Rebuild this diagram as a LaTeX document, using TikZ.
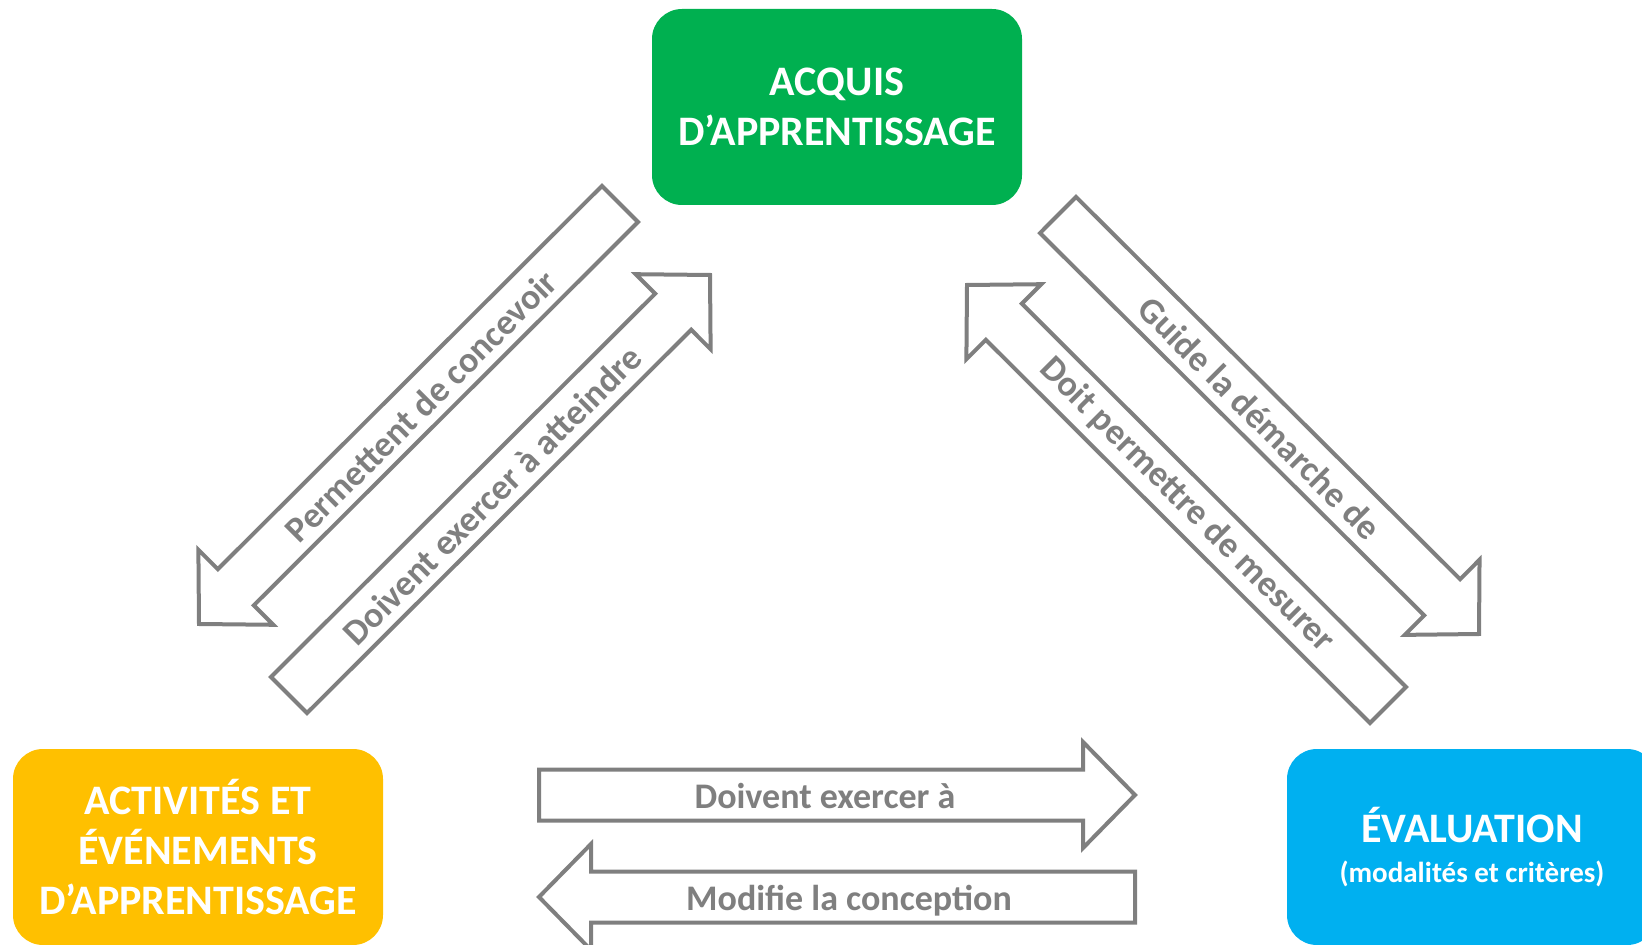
\documentclass[tikz,border=0pt]{standalone}
\usepackage{fontspec}
\setmainfont{Carlito}
\usetikzlibrary{calc}
\definecolor{acqgreen}{HTML}{00B050}
\definecolor{actyellow}{HTML}{FFC000}
\definecolor{evalblue}{HTML}{00B0F0}
\definecolor{arrowgray}{HTML}{7F7F7F}
\newcommand{\blockarrow}[2]{%
  \coordinate (#1_b) at ($(#2)!26pt!(#1)$);
  \draw[blockarrow] ($(#1)!12.75pt!90:(#2)$) -- ($(#1_b)!12.75pt!90:(#2)$) -- ($(#1_b)!26.5pt!90:(#2)$) -- (#2)
    -- ($(#1_b)!26.5pt!-90:(#2)$) -- ($(#1_b)!12.75pt!-90:(#2)$) -- ($(#1)!12.75pt!-90:(#2)$) -- cycle;}
\begin{document}
\begin{tikzpicture}[x=0.5pt,y=-0.5pt]\tikzset{box/.style = {shape=rectangle, rounded corners=15pt, minimum width=185pt, minimum height=98pt, inner sep=0pt, text=white, align=center, font=\bfseries\fontsize{21}{25}\selectfont},
  blockarrow/.style = {draw=arrowgray, line width=2pt, fill=white, line join=miter},
  arrowtext/.style = {text=arrowgray, inner sep=0pt, font=\bfseries\fontsize{18}{22}\selectfont}}

		\useasboundingbox (0,0) rectangle (1642,945);
		\clip (0,0) rectangle (1642,945);

		\node[box, fill=acqgreen] (acquis) at (837,107) {ACQUIS\\D’APPRENTISSAGE};
		\node[box, fill=actyellow] (activ) at (198,847) {ACTIVITÉS ET\\ÉVÉNEMENTS\\D’APPRENTISSAGE};
		\node[box, fill=evalblue] (eval) at (1472,847) {ÉVALUATION\\[-5pt]{\fontsize{14.5}{17}\selectfont (modalités et critères)}};

		\coordinate (conc_1) at (620,204);
		\coordinate (conc_2) at (199,624);
		\coordinate (att_1) at (289,695);
		\coordinate (att_2) at (710,275);
		\coordinate (guide_1) at (1058,215);
		\coordinate (guide_2) at (1479,634);
		\coordinate (mes_1) at (1388,705);
		\coordinate (mes_2) at (967,285);
		\coordinate (exer_1) at (539,795);
		\coordinate (exer_2) at (1135,795);
		\coordinate (modif_1) at (1135,897);
		\coordinate (modif_2) at (539,897);

		\blockarrow{conc_1}{conc_2}
		\blockarrow{att_1}{att_2}
		\blockarrow{guide_1}{guide_2}
		\blockarrow{mes_1}{mes_2}
		\blockarrow{exer_1}{exer_2}
		\blockarrow{modif_1}{modif_2}

		\node[arrowtext, rotate=45] (conc) at (421,406) {Permettent de concevoir};
		\node[arrowtext, rotate=45] (att) at (492,495) {Doivent exercer à atteindre};
		\node[arrowtext, rotate=-45] (guide) at (1260,418) {Guide la démarche de};
		\node[arrowtext, rotate=-45] (mes) at (1187,505) {Doit permettre de mesurer};
		\node[arrowtext, anchor=base] (exer) at (825,808) {Doivent exercer à};
		\node[arrowtext, anchor=base] (modif) at (849,910) {Modifie la conception};
	\end{tikzpicture}
\end{document}
